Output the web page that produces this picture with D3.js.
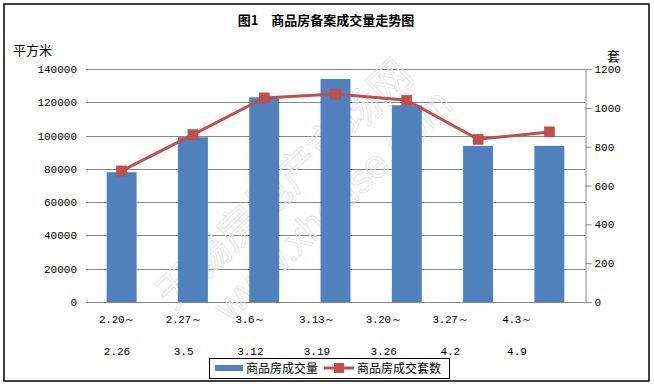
<!DOCTYPE html>
<html>
<head>
<meta charset="utf-8">
<title>商品房备案成交量走势图</title>
<script src="https://cdn.jsdelivr.net/npm/d3@7"></script>
<style>
  body { margin: 0; background: #fff; }
  svg { display: block; }
</style>
</head>
<body>
<div id="chart"></div>
<script>
// chart data
var weekStart = ["2.20～", "2.27～", "3.6～", "3.13～", "3.20～", "3.27～", "4.3～"];
var weekEnd   = ["2.26", "3.5", "3.12", "3.19", "3.26", "4.2", "4.9"];
var area      = [78000, 99000, 123000, 134000, 118200, 93800, 93800];   // 平方米
var units     = [675, 862, 1051, 1071, 1039, 838, 876];                 // 套
var leftTicks  = [0, 20000, 40000, 60000, 80000, 100000, 120000, 140000];
var rightTicks = [0, 200, 400, 600, 800, 1000, 1200];

var W = 654, H = 387;
var plot = {left: 86, right: 585, top: 69, bottom: 302};
var numFont = "'Liberation Mono', monospace";
var cjkFont = "'Noto Sans CJK SC', sans-serif";

var svg = d3.select("#chart").append("svg")
    .attr("width", W)
    .attr("height", H);

svg.append("rect")
    .attr("x", 4).attr("y", 4)
    .attr("width", 645).attr("height", 377)
    .attr("fill", "#fff")
    .attr("stroke", "#000")
    .attr("stroke-width", 1.5);

var x = d3.scaleBand()
    .domain(weekEnd)
    .range([plot.left, plot.right])
    .paddingInner(0.58)
    .paddingOuter(0.29);

// the category text sits a little left of the bars in the original
var xLabel = d3.scalePoint()
    .domain(weekEnd)
    .range([117, 517]);

var yLeft = d3.scaleLinear().domain([0, 140000]).range([plot.bottom, plot.top]);
var yRight = d3.scaleLinear().domain([0, 1200]).range([plot.bottom, plot.top]);

// gridlines
svg.append("g")
  .selectAll("line")
  .data(leftTicks)
  .enter().append("line")
    .attr("x1", plot.left)
    .attr("x2", plot.right)
    .attr("y1", function(d) { return Math.round(yLeft(d)) + 0.5; })
    .attr("y2", function(d) { return Math.round(yLeft(d)) + 0.5; })
    .attr("stroke", "#868686")
    .attr("stroke-width", 1);

// watermark
var wm = svg.append("g")
    .attr("transform", "translate(300,200) rotate(-44)")
    .attr("fill", "none")
    .attr("stroke", "#e2e2e2")
    .attr("stroke-width", 0.8);
wm.append("text")
    .attr("x", 0).attr("y", -8)
    .attr("text-anchor", "middle")
    .attr("font-family", cjkFont)
    .attr("font-size", 42)
    .text("无锡房地产市场网");
wm.append("text")
    .attr("x", 20).attr("y", 40)
    .attr("text-anchor", "middle")
    .attr("font-family", "'Liberation Sans', sans-serif")
    .attr("font-size", 40)
    .text("www.xhouse.com");

// bars
svg.append("g")
  .selectAll("rect")
  .data(area)
  .enter().append("rect")
    .attr("x", function(d, i) { return x(weekEnd[i]); })
    .attr("y", function(d) { return yLeft(d); })
    .attr("width", x.bandwidth())
    .attr("height", function(d) { return plot.bottom - yLeft(d); })
    .attr("fill", "#4F81BD");

// line series
var line = d3.line()
    .x(function(d, i) { return x(weekEnd[i]) + x.bandwidth() / 2; })
    .y(function(d) { return yRight(d); });

svg.append("path")
    .datum(units)
    .attr("d", line)
    .attr("fill", "none")
    .attr("stroke", "#C0504D")
    .attr("stroke-width", 3);

svg.append("g")
  .selectAll("rect")
  .data(units)
  .enter().append("rect")
    .attr("x", function(d, i) { return x(weekEnd[i]) + x.bandwidth() / 2 - 5; })
    .attr("y", function(d) { return yRight(d) - 5; })
    .attr("width", 10)
    .attr("height", 10)
    .attr("fill", "#C0504D")
    .attr("stroke", "#B9443F")
    .attr("stroke-width", 0.6);

// left axis: labels only
var leftAxis = svg.append("g")
    .attr("transform", "translate(" + plot.left + ",0)")
    .call(d3.axisLeft(yLeft).tickValues(leftTicks).tickFormat(d3.format("d"))
        .tickSize(0).tickPadding(9));
leftAxis.select(".domain").remove();
leftAxis.selectAll("text")
    .attr("font-family", numFont)
    .attr("font-size", 11)
    .attr("fill", "#000");

// right axis with line and outward ticks
var rightAxis = svg.append("g")
    .attr("transform", "translate(" + (plot.right + 0.5) + ",0)")
    .call(d3.axisRight(yRight).tickValues(rightTicks).tickFormat(d3.format("d"))
        .tickSize(6).tickPadding(3));
rightAxis.select(".domain").attr("stroke", "#868686");
rightAxis.selectAll(".tick line").attr("stroke", "#868686");
rightAxis.selectAll("text")
    .attr("font-family", numFont)
    .attr("font-size", 11)
    .attr("fill", "#000");

// category labels, two rows
var cat = svg.append("g")
    .attr("font-family", numFont)
    .attr("font-size", 11)
    .attr("text-anchor", "middle");
cat.selectAll(".start")
    .data(weekStart)
    .enter().append("text")
    .attr("class", "start")
    .attr("x", function(d, i) { return xLabel(weekEnd[i]); })
    .attr("y", 323)
    .attr("letter-spacing", -0.3)
    .text(function(d) { return d; });
cat.selectAll(".end")
    .data(weekEnd)
    .enter().append("text")
    .attr("class", "end")
    .attr("x", function(d) { return xLabel(d); })
    .attr("y", 355)
    .text(function(d) { return d; });

// titles
svg.append("text")
    .attr("x", 326).attr("y", 25)
    .attr("text-anchor", "middle")
    .attr("font-family", cjkFont)
    .attr("font-size", 13)
    .attr("font-weight", "bold")
    .text("图1　商品房备案成交量走势图");

svg.append("text")
    .attr("x", 13).attr("y", 55)
    .attr("font-family", cjkFont)
    .attr("font-size", 13)
    .text("平方米");

svg.append("text")
    .attr("x", 607).attr("y", 61)
    .attr("font-family", cjkFont)
    .attr("font-size", 13)
    .text("套");

// legend
var legend = svg.append("g");
legend.append("rect")
    .attr("x", 209.5).attr("y", 358.5)
    .attr("width", 240).attr("height", 20)
    .attr("fill", "#fff")
    .attr("stroke", "#000")
    .attr("stroke-width", 1);
legend.append("rect")
    .attr("x", 215).attr("y", 365)
    .attr("width", 28).attr("height", 6)
    .attr("fill", "#4F81BD");
legend.append("text")
    .attr("x", 246).attr("y", 373)
    .attr("font-family", cjkFont)
    .attr("font-size", 12)
    .text("商品房成交量");
legend.append("line")
    .attr("x1", 324).attr("x2", 354)
    .attr("y1", 368).attr("y2", 368)
    .attr("stroke", "#C0504D")
    .attr("stroke-width", 3);
legend.append("rect")
    .attr("x", 334).attr("y", 363)
    .attr("width", 10).attr("height", 10)
    .attr("fill", "#C0504D");
legend.append("text")
    .attr("x", 357).attr("y", 373)
    .attr("font-family", cjkFont)
    .attr("font-size", 12)
    .text("商品房成交套数");
</script>
</body>
</html>
